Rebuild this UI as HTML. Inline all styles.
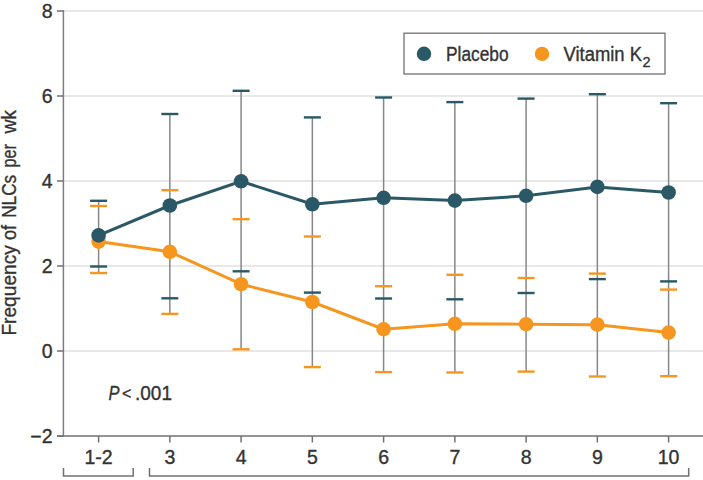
<!DOCTYPE html>
<html><head><meta charset="utf-8"><style>
html,body{margin:0;padding:0;background:#fff;width:703px;height:480px;overflow:hidden}
svg{display:block;font-family:"Liberation Sans",sans-serif}
text{stroke:#333;stroke-width:0.35px}
</style></head><body>
<svg width="703" height="480" viewBox="0 0 703 480">
<rect width="703" height="480" fill="#fff"/>
<line x1="63" y1="11" x2="703" y2="11" stroke="#e0e0e0" stroke-width="1.3"/>
<line x1="63" y1="96" x2="703" y2="96" stroke="#e0e0e0" stroke-width="1.3"/>
<line x1="63" y1="181" x2="703" y2="181" stroke="#e0e0e0" stroke-width="1.3"/>
<line x1="63" y1="266" x2="703" y2="266" stroke="#e0e0e0" stroke-width="1.3"/>
<line x1="63" y1="351" x2="703" y2="351" stroke="#e0e0e0" stroke-width="1.3"/>
<line x1="63.4" y1="10.3" x2="63.4" y2="436.6" stroke="#7e7e7e" stroke-width="1.5"/>
<line x1="57" y1="436" x2="703" y2="436" stroke="#707070" stroke-width="1.5"/>
<line x1="57" y1="11" x2="63.5" y2="11" stroke="#707070" stroke-width="1.5"/>
<line x1="57" y1="96" x2="63.5" y2="96" stroke="#707070" stroke-width="1.5"/>
<line x1="57" y1="181" x2="63.5" y2="181" stroke="#707070" stroke-width="1.5"/>
<line x1="57" y1="266" x2="63.5" y2="266" stroke="#707070" stroke-width="1.5"/>
<line x1="57" y1="351" x2="63.5" y2="351" stroke="#707070" stroke-width="1.5"/>
<line x1="57" y1="436" x2="63.5" y2="436" stroke="#707070" stroke-width="1.5"/>
<line x1="98.60" y1="436" x2="98.60" y2="442.5" stroke="#707070" stroke-width="1.5"/>
<line x1="169.85" y1="436" x2="169.85" y2="442.5" stroke="#707070" stroke-width="1.5"/>
<line x1="241.10" y1="436" x2="241.10" y2="442.5" stroke="#707070" stroke-width="1.5"/>
<line x1="312.35" y1="436" x2="312.35" y2="442.5" stroke="#707070" stroke-width="1.5"/>
<line x1="383.60" y1="436" x2="383.60" y2="442.5" stroke="#707070" stroke-width="1.5"/>
<line x1="454.85" y1="436" x2="454.85" y2="442.5" stroke="#707070" stroke-width="1.5"/>
<line x1="526.10" y1="436" x2="526.10" y2="442.5" stroke="#707070" stroke-width="1.5"/>
<line x1="597.35" y1="436" x2="597.35" y2="442.5" stroke="#707070" stroke-width="1.5"/>
<line x1="668.60" y1="436" x2="668.60" y2="442.5" stroke="#707070" stroke-width="1.5"/>
<text x="52.5" y="18" text-anchor="end" font-size="19.5" fill="#333333">8</text>
<text x="52.5" y="103" text-anchor="end" font-size="19.5" fill="#333333">6</text>
<text x="52.5" y="188" text-anchor="end" font-size="19.5" fill="#333333">4</text>
<text x="52.5" y="273" text-anchor="end" font-size="19.5" fill="#333333">2</text>
<text x="52.5" y="358" text-anchor="end" font-size="19.5" fill="#333333">0</text>
<text x="52.5" y="443" text-anchor="end" font-size="19.5" fill="#333333">−2</text>
<text x="98.60" y="464" text-anchor="middle" font-size="19.5" fill="#333333">1-2</text>
<text x="169.85" y="464" text-anchor="middle" font-size="19.5" fill="#333333">3</text>
<text x="241.10" y="464" text-anchor="middle" font-size="19.5" fill="#333333">4</text>
<text x="312.35" y="464" text-anchor="middle" font-size="19.5" fill="#333333">5</text>
<text x="383.60" y="464" text-anchor="middle" font-size="19.5" fill="#333333">6</text>
<text x="454.85" y="464" text-anchor="middle" font-size="19.5" fill="#333333">7</text>
<text x="526.10" y="464" text-anchor="middle" font-size="19.5" fill="#333333">8</text>
<text x="597.35" y="464" text-anchor="middle" font-size="19.5" fill="#333333">9</text>
<text x="668.60" y="464" text-anchor="middle" font-size="19.5" fill="#333333">10</text>
<path d="M63.5 468 V476 H133.2 V468" fill="none" stroke="#707070" stroke-width="1.5"/>
<path d="M149.5 468 V476 H688.7 V468" fill="none" stroke="#707070" stroke-width="1.5"/>
<text transform="translate(16,290.40) rotate(-90)" text-anchor="middle" font-size="19.5" fill="#333333" textLength="90.40" lengthAdjust="spacingAndGlyphs">Frequency</text>
<text transform="translate(16,232.45) rotate(-90)" text-anchor="middle" font-size="19.5" fill="#333333" textLength="15.10" lengthAdjust="spacingAndGlyphs">of</text>
<text transform="translate(16,196.30) rotate(-90)" text-anchor="middle" font-size="19.5" fill="#333333" textLength="43.00" lengthAdjust="spacingAndGlyphs">NLCs</text>
<text transform="translate(16,155.75) rotate(-90)" text-anchor="middle" font-size="19.5" fill="#333333" textLength="23.50" lengthAdjust="spacingAndGlyphs">per</text>
<text transform="translate(16,121.80) rotate(-90)" text-anchor="middle" font-size="19.5" fill="#333333" textLength="23.60" lengthAdjust="spacingAndGlyphs">wk</text>
<text x="108.5" y="400" font-size="19.5" font-style="italic" fill="#333333" textLength="11" lengthAdjust="spacingAndGlyphs">P</text>
<text x="122" y="398.5" font-size="16" fill="#333333">&lt;</text>
<text x="135" y="400" font-size="19.5" fill="#333333" textLength="37" lengthAdjust="spacingAndGlyphs">.001</text>
<line x1="98.60" y1="200.8" x2="98.60" y2="273" stroke="#878787" stroke-width="1.5"/>
<line x1="169.85" y1="114" x2="169.85" y2="313.9" stroke="#878787" stroke-width="1.5"/>
<line x1="241.10" y1="90.8" x2="241.10" y2="349.3" stroke="#878787" stroke-width="1.5"/>
<line x1="312.35" y1="117.4" x2="312.35" y2="367.1" stroke="#878787" stroke-width="1.5"/>
<line x1="383.60" y1="97.5" x2="383.60" y2="372.1" stroke="#878787" stroke-width="1.5"/>
<line x1="454.85" y1="102.1" x2="454.85" y2="372.5" stroke="#878787" stroke-width="1.5"/>
<line x1="526.10" y1="98.6" x2="526.10" y2="371.6" stroke="#878787" stroke-width="1.5"/>
<line x1="597.35" y1="94.2" x2="597.35" y2="376.5" stroke="#878787" stroke-width="1.5"/>
<line x1="668.60" y1="103.2" x2="668.60" y2="376.2" stroke="#878787" stroke-width="1.5"/>
<line x1="90.10" y1="206" x2="107.10" y2="206" stroke="#f6961e" stroke-width="2.4"/>
<line x1="90.10" y1="273" x2="107.10" y2="273" stroke="#f6961e" stroke-width="2.4"/>
<line x1="90.10" y1="200.8" x2="107.10" y2="200.8" stroke="#2a5866" stroke-width="2.4"/>
<line x1="90.10" y1="266.5" x2="107.10" y2="266.5" stroke="#2a5866" stroke-width="2.4"/>
<line x1="161.35" y1="190.2" x2="178.35" y2="190.2" stroke="#f6961e" stroke-width="2.4"/>
<line x1="161.35" y1="313.9" x2="178.35" y2="313.9" stroke="#f6961e" stroke-width="2.4"/>
<line x1="161.35" y1="114" x2="178.35" y2="114" stroke="#2a5866" stroke-width="2.4"/>
<line x1="161.35" y1="298.3" x2="178.35" y2="298.3" stroke="#2a5866" stroke-width="2.4"/>
<line x1="232.60" y1="219.2" x2="249.60" y2="219.2" stroke="#f6961e" stroke-width="2.4"/>
<line x1="232.60" y1="349.3" x2="249.60" y2="349.3" stroke="#f6961e" stroke-width="2.4"/>
<line x1="232.60" y1="90.8" x2="249.60" y2="90.8" stroke="#2a5866" stroke-width="2.4"/>
<line x1="232.60" y1="271.3" x2="249.60" y2="271.3" stroke="#2a5866" stroke-width="2.4"/>
<line x1="303.85" y1="236.5" x2="320.85" y2="236.5" stroke="#f6961e" stroke-width="2.4"/>
<line x1="303.85" y1="367.1" x2="320.85" y2="367.1" stroke="#f6961e" stroke-width="2.4"/>
<line x1="303.85" y1="117.4" x2="320.85" y2="117.4" stroke="#2a5866" stroke-width="2.4"/>
<line x1="303.85" y1="292.6" x2="320.85" y2="292.6" stroke="#2a5866" stroke-width="2.4"/>
<line x1="375.10" y1="286.2" x2="392.10" y2="286.2" stroke="#f6961e" stroke-width="2.4"/>
<line x1="375.10" y1="372.1" x2="392.10" y2="372.1" stroke="#f6961e" stroke-width="2.4"/>
<line x1="375.10" y1="97.5" x2="392.10" y2="97.5" stroke="#2a5866" stroke-width="2.4"/>
<line x1="375.10" y1="298.5" x2="392.10" y2="298.5" stroke="#2a5866" stroke-width="2.4"/>
<line x1="446.35" y1="274.8" x2="463.35" y2="274.8" stroke="#f6961e" stroke-width="2.4"/>
<line x1="446.35" y1="372.5" x2="463.35" y2="372.5" stroke="#f6961e" stroke-width="2.4"/>
<line x1="446.35" y1="102.1" x2="463.35" y2="102.1" stroke="#2a5866" stroke-width="2.4"/>
<line x1="446.35" y1="299.3" x2="463.35" y2="299.3" stroke="#2a5866" stroke-width="2.4"/>
<line x1="517.60" y1="278" x2="534.60" y2="278" stroke="#f6961e" stroke-width="2.4"/>
<line x1="517.60" y1="371.6" x2="534.60" y2="371.6" stroke="#f6961e" stroke-width="2.4"/>
<line x1="517.60" y1="98.6" x2="534.60" y2="98.6" stroke="#2a5866" stroke-width="2.4"/>
<line x1="517.60" y1="293" x2="534.60" y2="293" stroke="#2a5866" stroke-width="2.4"/>
<line x1="588.85" y1="273.6" x2="605.85" y2="273.6" stroke="#f6961e" stroke-width="2.4"/>
<line x1="588.85" y1="376.5" x2="605.85" y2="376.5" stroke="#f6961e" stroke-width="2.4"/>
<line x1="588.85" y1="94.2" x2="605.85" y2="94.2" stroke="#2a5866" stroke-width="2.4"/>
<line x1="588.85" y1="279.1" x2="605.85" y2="279.1" stroke="#2a5866" stroke-width="2.4"/>
<line x1="660.10" y1="289.6" x2="677.10" y2="289.6" stroke="#f6961e" stroke-width="2.4"/>
<line x1="660.10" y1="376.2" x2="677.10" y2="376.2" stroke="#f6961e" stroke-width="2.4"/>
<line x1="660.10" y1="103.2" x2="677.10" y2="103.2" stroke="#2a5866" stroke-width="2.4"/>
<line x1="660.10" y1="281.4" x2="677.10" y2="281.4" stroke="#2a5866" stroke-width="2.4"/>
<polyline fill="none" stroke="#f6961e" stroke-width="3" points="98.60,241.6 169.85,251.8 241.10,284.2 312.35,302 383.60,329.2 454.85,323.8 526.10,324.2 597.35,324.65 668.60,332.6"/>
<circle cx="98.60" cy="241.6" r="7.3" fill="#f6961e"/>
<circle cx="169.85" cy="251.8" r="7.3" fill="#f6961e"/>
<circle cx="241.10" cy="284.2" r="7.3" fill="#f6961e"/>
<circle cx="312.35" cy="302" r="7.3" fill="#f6961e"/>
<circle cx="383.60" cy="329.2" r="7.3" fill="#f6961e"/>
<circle cx="454.85" cy="323.8" r="7.3" fill="#f6961e"/>
<circle cx="526.10" cy="324.2" r="7.3" fill="#f6961e"/>
<circle cx="597.35" cy="324.65" r="7.3" fill="#f6961e"/>
<circle cx="668.60" cy="332.6" r="7.3" fill="#f6961e"/>
<polyline fill="none" stroke="#2a5866" stroke-width="3" points="98.60,235.4 169.85,205.5 241.10,181.3 312.35,204.3 383.60,197.8 454.85,200.6 526.10,195.8 597.35,186.9 668.60,192.5"/>
<circle cx="98.60" cy="235.4" r="7.3" fill="#2a5866"/>
<circle cx="169.85" cy="205.5" r="7.3" fill="#2a5866"/>
<circle cx="241.10" cy="181.3" r="7.3" fill="#2a5866"/>
<circle cx="312.35" cy="204.3" r="7.3" fill="#2a5866"/>
<circle cx="383.60" cy="197.8" r="7.3" fill="#2a5866"/>
<circle cx="454.85" cy="200.6" r="7.3" fill="#2a5866"/>
<circle cx="526.10" cy="195.8" r="7.3" fill="#2a5866"/>
<circle cx="597.35" cy="186.9" r="7.3" fill="#2a5866"/>
<circle cx="668.60" cy="192.5" r="7.3" fill="#2a5866"/>
<rect x="404" y="33.2" width="261" height="40.8" fill="#fff" stroke="#707070" stroke-width="1.3"/>
<circle cx="424" cy="53.8" r="7.2" fill="#2a5866"/>
<text x="446" y="60.5" font-size="19.5" fill="#333333" textLength="62.5" lengthAdjust="spacingAndGlyphs">Placebo</text>
<circle cx="542" cy="53.9" r="7.2" fill="#f6961e"/>
<text x="563.5" y="61.4" font-size="19.5" fill="#333333" textLength="78.5" lengthAdjust="spacingAndGlyphs">Vitamin K</text>
<text x="642.5" y="67.2" font-size="14.5" fill="#333333">2</text>
</svg>
</body></html>
